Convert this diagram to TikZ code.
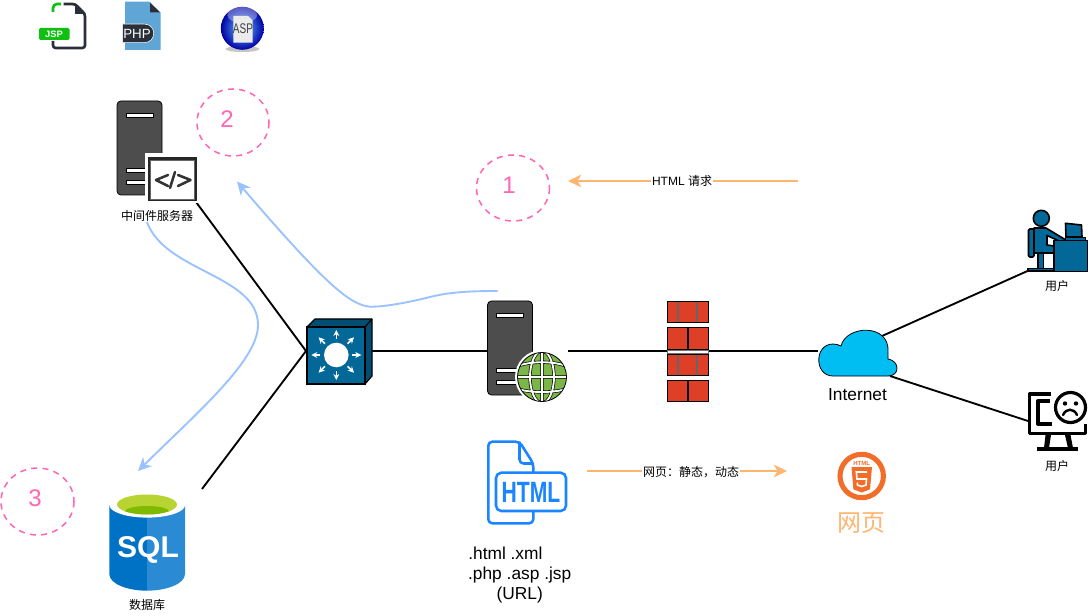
\documentclass[tikz,border=0pt]{standalone}
\usepackage{fontspec}
\setmainfont{Liberation Sans}
\newfontfamily\cjk{Noto Sans CJK SC}
\usetikzlibrary{arrows.meta,calc}
\definecolor{linkblue}{HTML}{99C2FF}
\definecolor{linkorange}{HTML}{FFB570}
\definecolor{markpink}{HTML}{FF66B3}
\definecolor{darkbody}{HTML}{4D4D4D}
\definecolor{teal}{HTML}{036897}
\definecolor{tealdark}{HTML}{024E72}
\definecolor{brick}{HTML}{DD3F27}
\definecolor{filedark}{HTML}{2A2F3A}
\definecolor{jspgreen}{HTML}{10C010}
\definecolor{phpblue}{HTML}{5FA5D6}
\definecolor{htmlblue}{HTML}{1A85FF}
\definecolor{html5}{HTML}{F26C2A}
\definecolor{cloudblue}{HTML}{00BEF2}
\definecolor{globegreen}{HTML}{7AB648}
\definecolor{sqlleft}{HTML}{0072C6}
\definecolor{sqlright}{HTML}{2A8AD4}
\definecolor{sqllime}{HTML}{B8D432}
\definecolor{sqlgreen}{HTML}{7FBA00}
\tikzset{
  anchorbox/.style={inner sep=0pt,outer sep=0pt,draw=none},
  wire/.style={black,line width=1.4pt},
  bluelink/.style={linkblue,line width=1.4pt,-{Stealth[length=10pt,width=9.5pt,inset=3pt]}},
  orangelink/.style={linkorange,line width=1.4pt,-{Stealth[length=10pt,width=9.5pt,inset=3pt]}},
  smalltext/.style={font=\fontsize{9}{11}\selectfont\cjk,inner sep=0pt},
  linktext/.style={font=\fontsize{9}{11}\selectfont,fill=white,inner sep=0.6pt},
  bigtext/.style={font=\fontsize{13}{15}\selectfont,inner sep=0pt},
  stepmark/.style={draw=markpink,line width=1.15pt,dash pattern=on 4.5pt off 4pt},
  stepnum/.style={text=markpink,font=\fontsize{18}{20}\selectfont,inner sep=0pt},
  brickcell/.style={fill=brick,draw=black,line width=0.7pt},
  spoke/.style={white,line width=1.2pt,-{Stealth[length=4.5pt,width=4.5pt]}},
  desk/.style={fill=teal,draw=black,line width=1.2pt,line join=round},
}
% tower server body, with its origin at the upper left corner
\newcommand{\towerbody}[2]{%
  \begin{scope}[shift={(#1,#2)}]
    \fill[darkbody,draw=black,line width=0.6pt,rounded corners=3pt] (0,0) rectangle (45,94);
    \foreach \yy in {12,67,79}{
      \fill[white,draw=black,line width=0.4pt] (9,\yy) rectangle (36,\yy+4);
    }
  \end{scope}}
\begin{document}
\begin{tikzpicture}[x=0.75pt,y=-0.75pt]
\useasboundingbox (0,0) rectangle (1088,616);
\fill[white] (0,0) rectangle (1088,616);

% named footprints of the main devices
\path (157,151.5) node[anchorbox,minimum width=58.5pt,minimum height=75.75pt] (mw) {};
\path (338.5,351) node[anchorbox,minimum width=48.75pt,minimum height=49.5pt] (sw) {};
\path (147,547) node[anchorbox,minimum width=82.5pt,minimum height=87pt] (db) {};
\path (527.5,351) node[anchorbox,minimum width=60.75pt,minimum height=75pt] (web) {};
\path (687.5,351) node[anchorbox,minimum width=30.75pt,minimum height=75pt] (fw) {};
\path (857.5,351) node[anchorbox,minimum width=59.25pt,minimum height=36pt] (cloud) {};
\path (1057.5,245) node[anchorbox,minimum width=45pt,minimum height=39pt] (user1) {};
\path (1058,421) node[anchorbox,minimum width=45pt,minimum height=50pt] (user2) {};
\coordinate (cloudup) at (882,336);
\coordinate (clouddown) at (890,376);

% network wiring
\draw[wire] (mw.south east) -- (sw.west);
\draw[wire] (db.north east) -- (sw.west);
\draw[wire] (sw.east) -- (web.west);
\draw[wire] (web.east) -- (fw.west) -- (fw.east) -- (cloud.west);
\draw[wire] (cloudup) -- (user1.south west);
\draw[wire] (clouddown) -- (user2.west);

% file type badges along the top
\draw[filedark,line width=2pt,line join=round,rounded corners=2pt]
  (63.5,4) -- (75,4) -- (85,14) -- (85,48) -- (53,48) -- (53,41);
\fill[filedark] (75,3.2) -- (85.8,14) -- (75,14) -- cycle;
\draw[jspgreen,line width=2pt,rounded corners=3pt] (53,12) -- (53,4) -- (61,4);
\fill[jspgreen,rounded corners=1pt] (39,28) rectangle (69.5,40);
\node[anchorbox,text=white,font=\fontsize{7}{8}\selectfont\bfseries] (jsp) at (54,34) {JSP};

\fill[phpblue] (125,1.7) -- (149.5,1.7) -- (160.7,12.7) -- (160.7,50) -- (125,50) -- cycle;
\fill[filedark] (150,2.7) -- (160,12.3) -- (150,12.3) -- cycle;
\fill[filedark,draw=white,line width=0.4pt] (122.7,24) -- (144,24) .. controls (157,24) and (157,42.7) .. (144,42.7) -- (122.7,42.7) -- cycle;
\node[anchorbox,text=white,font=\fontsize{10}{12}\selectfont] (php) at (137,33.5) {PHP};

\fill[black!45,opacity=0.5] (242.5,49) ellipse (17 and 3);
\shade[inner color=cyan!60!blue!60,outer color=blue!65!black] (242.3,28.3) circle (21.5);
\fill[white,opacity=0.35] (242.3,15) ellipse (15 and 8);
\fill[white!92!black] (233.3,16) -- (248,16) -- (252.7,20.5) -- (252.7,42.7) -- (233.3,42.7) -- cycle;
\node[anchorbox,text=black!75,font=\fontsize{7.5}{8}\selectfont,yscale=1.4] (asp) at (243,29) {ASP};

% middleware server with code window
\towerbody{117}{101}
\fill[white] (144.5,153) rectangle (198,203);
\fill[black!85] (148,157.5) rectangle (197,201.5);
\fill[white,draw=black!60,line width=0.4pt] (150.5,160) rectangle (194.5,199);
\draw[black!80,line width=1.9pt,line cap=round,line join=round]
  (168,175) -- (156,180) -- (168,186)
  (175,172) -- (170,188)
  (178,175) -- (190.5,180) -- (178,186);
\node[smalltext] (mwlabel) at (157,215.5) {中间件服务器};

% core switch
\fill[tealdark,draw=black,line width=0.9pt,line join=round]
  (307,327) -- (315,319) -- (372,319) -- (372,376) -- (365,384) -- (365,327) -- cycle;
\draw[black,line width=0.9pt] (365,327) -- (372,319);
\fill[teal,draw=black,line width=0.9pt] (307,327) rectangle (365,384);
\fill[white] (336.3,355) circle (12.3);
\foreach \aa in {0,45,...,315}{
  \draw[spoke] ($(336.3,355)+(\aa:16)$) -- ($(336.3,355)+(\aa:25)$);
}

% web server with globe
\towerbody{487.5}{301}
\fill[white] (542,377) circle (27);
\begin{scope}
  \clip (542,377) circle (24.5);
  \fill[globegreen] (517,352) rectangle (567,402);
  \foreach \wd/\cl in {2.4pt/black,1.4pt/white}{
    \draw[\cl,line width=\wd]
      (542,350) -- (542,404)
      (542,377) ellipse (12 and 26)
      (515,377) -- (569,377)
      (518,366) .. controls (530,361) and (554,361) .. (566,366)
      (518,389) .. controls (530,393) and (554,393) .. (566,389);
  }
\end{scope}
\draw[black,line width=0.6pt] (542,377) circle (24.5);

% firewall wall of bricks
\foreach \yy in {301,354}{
  \fill[black!60] (667,\yy) rectangle (708,\yy+21.5);
  \foreach \xa/\xb in {667/677,679/696,698/708}{
    \fill[brick] (\xa,\yy) rectangle (\xb,\yy+21.5);
  }
  \draw[black,line width=0.7pt] (667,\yy) rectangle (708,\yy+21.5);
}
\foreach \yy in {327.5,380}{
  \draw[brickcell] (667,\yy) rectangle (687,\yy+21.5);
  \draw[brickcell] (688.5,\yy) rectangle (708,\yy+21.5);
}
\fill[white,draw=black!55,line width=0.3pt] (667,350) rectangle (708,353);

% internet cloud
\fill[cloudblue,draw=black,line width=0.6pt]
  (833,376) .. controls (814,376) and (814,344) .. (833,344)
  .. controls (836,344) and (839,345) .. (841,346)
  .. controls (846,325) and (890,323) .. (888,352)
  .. controls (888,355) and (888,357) .. (888,359)
  .. controls (900,361) and (900,376) .. (888,376) -- cycle;
\node[bigtext] (inet) at (857.5,395) {Internet};

% desk user
\fill[desk,rounded corners=1pt] (1028.5,229) rectangle (1034,257);
\fill[desk] (1041.3,218.3) circle (8);
\fill[desk]
  (1034,228) -- (1046,228) -- (1065,239.5) -- (1063.5,243) -- (1047,235.5)
  -- (1047,245) -- (1054,246) -- (1054,253) -- (1034,253) -- cycle;
\fill[desk] (1038,253) rectangle (1043.5,268.5);
\fill[desk] (1028,268.5) rectangle (1054,271);
\fill[desk] (1054,240.7) rectangle (1087.3,271.5);
\fill[desk] (1065.5,223.3) -- (1081.5,225) -- (1082,237) -- (1066,237) -- cycle;
\fill[desk,line width=0.7pt] (1065,237.5) rectangle (1085,240.7);
\node[smalltext] (u1label) at (1057,285.5) {用户};

% unhappy user at a screen
\draw[black,line width=2.5pt,line join=round]
  (1051,394) -- (1029.5,394) -- (1029.5,433.5) -- (1085.5,433.5) -- (1085.5,424);
\draw[black,line width=2.5pt,line join=round] (1049.5,401) -- (1038,401) -- (1038,424) -- (1052,424);
\fill[black] (1045.5,435) -- (1051,435) -- (1049,448) -- (1044,448) -- cycle;
\fill[black] (1065,435) -- (1070.5,435) -- (1073,448) -- (1068,448) -- cycle;
\fill[black] (1036.5,447) rectangle (1077.5,451);
\draw[black,line width=2.4pt] (1070.5,407.5) circle (15);
\fill[black] (1065,403.5) circle (2.2) (1076,403.5) circle (2.2);
\draw[black,line width=1.8pt,line cap=round] (1063,415) .. controls (1066,408) and (1074,408) .. (1077,415);
\node[smalltext] (u2label) at (1057,465.5) {用户};

% HTML document icon
\draw[htmlblue,line width=1.9pt,line join=round,rounded corners=3pt]
  (533.3,473) -- (533.3,463.5) -- (519.5,441.7) -- (488.3,441.7) -- (488.3,523.3) -- (533.3,523.3) -- (533.3,511.5);
\draw[htmlblue,line width=1.9pt,line join=round,rounded corners=3pt]
  (519.5,441.7) -- (519.5,463.5) -- (533.3,463.5);
\draw[htmlblue,line width=1.9pt,rounded corners=4pt] (496,472.7) rectangle (566,511);
\node[anchorbox,text=htmlblue,font=\fontsize{22}{24}\selectfont\bfseries,xscale=0.72] (htmlword) at (531,492) {HTML};
\node[bigtext,align=center] (exts) at (519.7,575)
  {.html .xml\hspace*{21.5pt}\\.php .asp .jsp\\(URL)};

% HTML5 badge and caption
\draw[html5,line width=3.8pt] (861.7,476) circle (21.7);
\fill[html5] (851.5,467) -- (872,467) -- (870,489.3) -- (861.7,492.5) -- (853.4,489.3) -- cycle;
\draw[white,line width=1.2pt] (867,472) -- (856.3,472) -- (857,479) -- (866.5,479) -- (866,485) -- (861.7,486.5) -- (857.4,485) -- (857.3,482.5);
\node[anchorbox,text=html5,font=\fontsize{4.5}{5}\selectfont\bfseries] (h5word) at (861.7,463.3) {HTML};
\node[anchorbox,text=linkorange,font=\fontsize{18}{20}\selectfont\cjk] (pagelabel) at (861.7,523) {网页};

% SQL database cylinder
\fill[sqlleft] (109.3,505) -- (147,505) -- (147,590.7) .. controls (128,590.7) and (109.3,584) .. (109.3,574) -- cycle;
\fill[sqlright] (147,505) -- (185,505) -- (185,574) .. controls (185,584) and (166,590.7) .. (147,590.7) -- cycle;
\fill[white] (147.2,505) ellipse (37.9 and 12.6);
\fill[sqllime] (147,504.5) ellipse (30 and 10);
\begin{scope}
  \clip (147,504.5) ellipse (30 and 10);
  \fill[sqlgreen] (147,511.5) ellipse (22 and 5.5);
\end{scope}
\node[anchorbox,text=white,font=\fontsize{22.5}{24}\selectfont\bfseries] (sqlword) at (148,549.5) {SQL};
\node[smalltext] (dblabel) at (147,605) {数据库};

% numbered step marks
\draw[stepmark] (233,122.5) ellipse (36 and 33.5);
\draw[stepmark] (513,188) ellipse (36.5 and 33);
\draw[stepmark] (37.5,501.5) ellipse (36.5 and 33.5);
\node[stepnum] (s2) at (227,119.5) {2};
\node[stepnum] (s1) at (509,185) {1};
\node[stepnum] (s3) at (35,498.5) {3};

% request and response flows
\coordinate (reqstart) at (798,181);
\coordinate (reqend) at (568,181);
\draw[orangelink] (reqstart) -- (reqend);
\node[linktext] (reqlabel) at (682,181) {HTML {\cjk 请求}};
\coordinate (respstart) at (587,471);
\coordinate (respend) at (787,471);
\draw[orangelink] (respstart) -- (respend);
\node[linktext,font=\fontsize{9}{11}\selectfont\cjk] (resplabel) at (691,472) {网页：静态，动态};

\coordinate (fwdstart) at (497.5,291);
\coordinate (fwdend) at (237,181.5);
\draw[bluelink] (fwdstart) .. controls (470,291) and (450,292) .. (430,297)
  .. controls (410,302) and (385,307) .. (370,306.7)
  .. controls (350,305) and (325,284) .. (fwdend);
\coordinate (dbstart) at (147,222);
\coordinate (dbend) at (138,471);
\draw[bluelink] (dbstart) .. controls (165,272) and (258,275) .. (258,325)
  .. controls (258,360) and (200,410) .. (dbend);
\end{tikzpicture}
\end{document}
